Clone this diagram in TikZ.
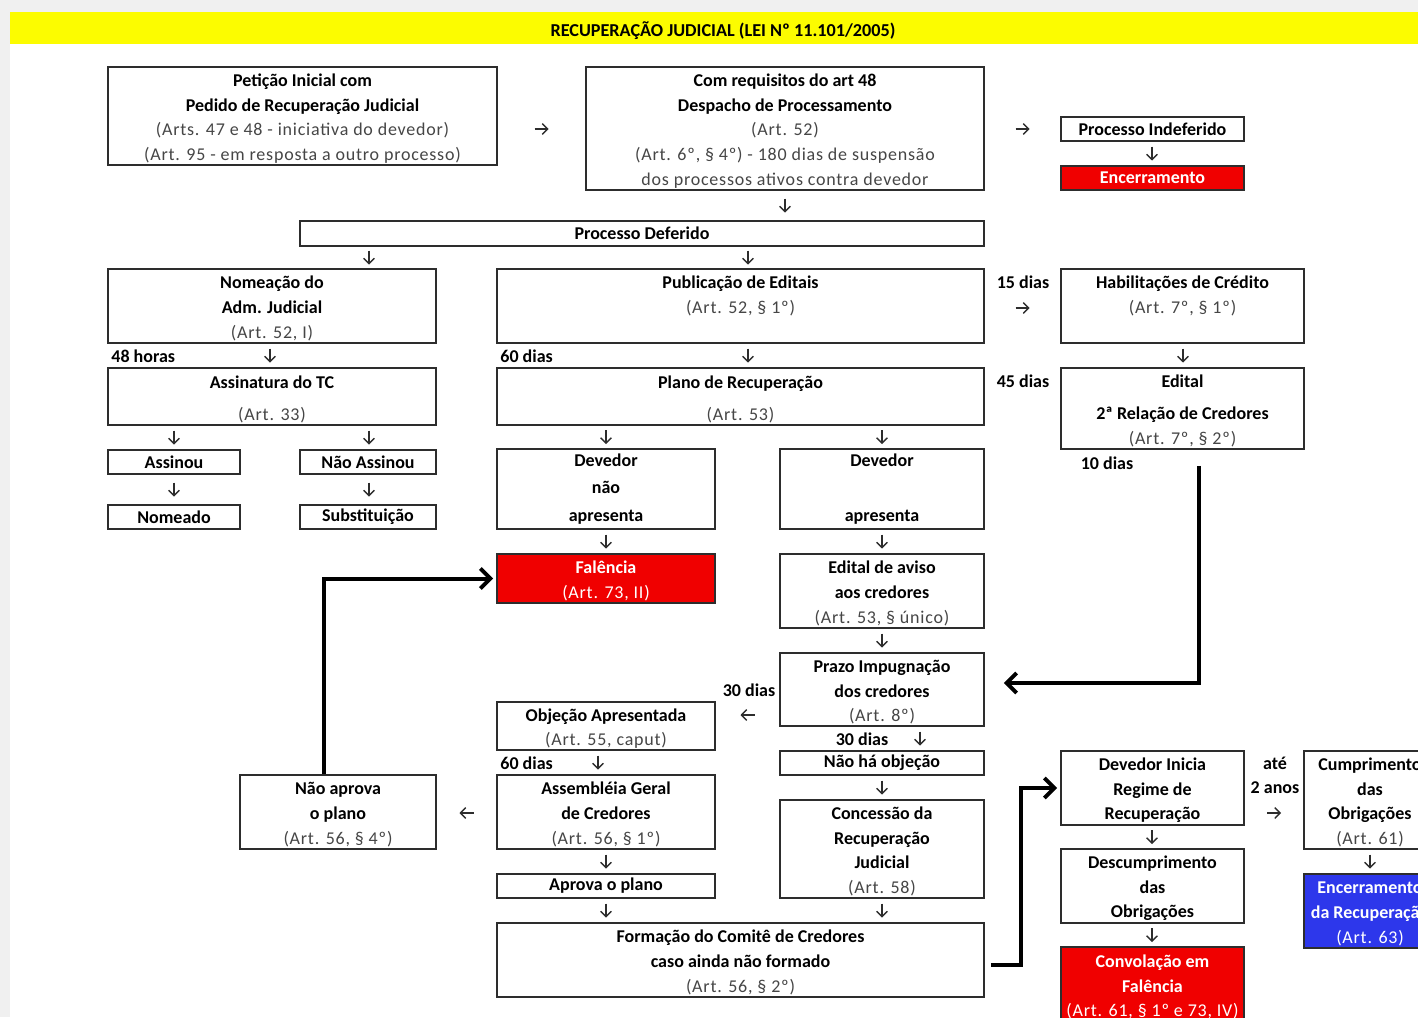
\documentclass[tikz,border=0pt]{standalone}
\usepackage{fontspec}
\setmainfont{Carlito}
\newfontfamily\artfont[LetterSpace=4.3]{Carlito}
\usetikzlibrary{arrows.meta}
\usetikzlibrary{calc}

\definecolor{fundo}{RGB}{240,240,240}
\definecolor{amarelo}{RGB}{252,252,0}
\definecolor{vermelho}{RGB}{240,0,0}
\definecolor{azul}{RGB}{45,55,235}
\definecolor{borda}{RGB}{45,45,45}
\definecolor{artigo}{RGB}{70,70,70}

\tikzset{
	caixa/.style={draw=borda, line width=0.8pt, align=center, inner sep=0pt,
		font=\fontsize{9}{12.3}\selectfont\bfseries},
	alerta/.style={caixa, fill=vermelho, text=white},
	fim/.style={caixa, fill=azul, text=white},
	rotulo/.style={font=\fontsize{9}{12.3}\selectfont\bfseries, inner sep=0pt},
	seta/.style={draw=borda, line width=0.7pt, -{Straight Barb[length=2.6pt,width=5.4pt]}},
	grossa/.style={line width=2pt, -{Straight Barb[length=5pt,width=10pt]}},
}
\newcommand{\topo}{\rule{0pt}{8.8pt}}
\newcommand{\art}[1]{{\artfont\mdseries\color{artigo}#1}}
\newcommand{\artb}[1]{{\artfont\mdseries#1}}
% setas pequenas: de #1 para #2, na abscissa/ordenada #3
\newcommand{\setav}[3]{
	\draw[seta] ($(#1.south -| #3,0)!.5!(#2.north -| #3,0)+(0,-7)$) -- ++(0,14);
}
\newcommand{\setad}[3]{
	\draw[seta] ($(#1.east |- 0,#3)!.5!(#2.west |- 0,#3)+(-7,0)$) -- ++(14,0);
}
\newcommand{\setae}[3]{
	\draw[seta] ($(#1.west |- 0,#3)!.5!(#2.east |- 0,#3)+(7,0)$) -- ++(-14,0);
}

\begin{document}
\begin{tikzpicture}[x=0.5pt, y=-0.5pt]

\clip (0,0) rectangle (1418,1017);
\fill[fundo] (0,0) rectangle (1418,1017);
\fill[white] (10,12) rectangle (1418,1017);
\fill[amarelo] (10,12) rectangle (1418,44);
\node[rotulo, font=\fontsize{9.1}{12}\selectfont\bfseries] (titulo) at (723,31) {RECUPERAÇÃO JUDICIAL (LEI Nº 11.101/2005)};

% linha de cima
\node[caixa, minimum width=194.5pt, minimum height=49pt] (peticao) at (302.5,116)
	{\topo Petição Inicial com\\Pedido de Recuperação Judicial\\\art{(Arts. 47 e 48 - iniciativa do devedor)}\\\art{(Art. 95 - em resposta a outro processo)}};
\node[caixa, minimum width=199pt, minimum height=61.5pt] (despacho) at (785,128.5)
	{\topo Com requisitos do art 48\\Despacho de Processamento\\\art{(Art. 52)}\\\art{(Art. 6º, § 4º) - 180 dias de suspensão}\\\art{dos processos ativos contra devedor}};
\node[caixa, minimum width=91.5pt, minimum height=12pt] (indeferido) at (1152.5,129) {Processo Indeferido};
\node[alerta, minimum width=91.5pt, minimum height=12pt] (encerramento) at (1152.5,178) {Encerramento};
\node[caixa, minimum width=342pt, minimum height=12.5pt] (deferido) at (642,233.5) {Processo Deferido};

% administrador judicial
\node[caixa, minimum width=164pt, minimum height=37pt] (nomeacao) at (272,306)
	{\topo Nomeação do\\Adm. Judicial\\\art{(Art. 52, I)}};
\node[caixa, minimum width=164pt, minimum height=28.5pt] (assinatura) at (272,396.5)
	{\topo Assinatura do TC\\[3.7pt]\art{(Art. 33)}};
\node[caixa, minimum width=66pt, minimum height=12pt] (assinou) at (174,462) {Assinou};
\node[caixa, minimum width=68pt, minimum height=12pt] (naoassinou) at (368,462) {Não Assinou};
\node[caixa, minimum width=66pt, minimum height=12pt] (nomeado) at (174,517) {Nomeado};
\node[caixa, minimum width=68pt, minimum height=12pt] (substituicao) at (368,517) {Substituição};

% plano de recuperacao
\node[caixa, minimum width=243.5pt, minimum height=37pt] (publicacao) at (740.5,306)
	{\topo Publicação de Editais\\\art{(Art. 52, § 1º)}\\\phantom{(}};
\node[caixa, minimum width=243.5pt, minimum height=28.5pt] (plano) at (740.5,396.5)
	{\topo Plano de Recuperação\\[3.7pt]\art{(Art. 53)}};
\node[caixa, minimum width=109pt, minimum height=40pt] (naoapresenta) at (606,489)
	{Devedor\\[1.4pt]não\\[1.4pt]apresenta};
\node[caixa, minimum width=102pt, minimum height=40pt] (apresenta) at (882,489)
	{Devedor\\[15.2pt]apresenta};
\node[alerta, minimum width=109pt, minimum height=24.5pt] (falencia) at (606,578.5)
	{\topo Falência\\\artb{(Art. 73, II)}};
\node[caixa, minimum width=102pt, minimum height=37pt] (aviso) at (882,591)
	{\topo Edital de aviso\\aos credores\\\art{(Art. 53, § único)}};
\node[caixa, minimum width=102pt, minimum height=36.5pt] (prazo) at (882,689.5)
	{\topo Prazo Impugnação\\dos credores\\\art{(Art. 8º)}};
\node[caixa, minimum width=109pt, minimum height=24pt] (objecao) at (606,726)
	{\topo Objeção Apresentada\\\art{(Art. 55, caput)}};
\node[caixa, minimum width=102pt, minimum height=12pt] (naohaobjecao) at (882,763) {Não há objeção};
\node[caixa, minimum width=109pt, minimum height=37pt] (assembleia) at (606,812)
	{\topo Assembléia Geral\\de Credores\\\art{(Art. 56, § 1º)}};
\node[caixa, minimum width=98pt, minimum height=37pt] (naoaprova) at (338,812)
	{\topo Não aprova\\o plano\\\art{(Art. 56, § 4º)}};
\node[caixa, minimum width=102pt, minimum height=49pt] (concessao) at (882,849)
	{\topo Concessão da\\Recuperação\\Judicial\\\art{(Art. 58)}};
\node[caixa, minimum width=109pt, minimum height=12pt] (aprova) at (606,886) {Aprova o plano};
\node[caixa, minimum width=243.5pt, minimum height=37pt] (comite) at (740.5,960)
	{\topo Formação do Comitê de Credores\\caso ainda não formado\\\art{(Art. 56, § 2º)}};

% credores
\node[caixa, minimum width=121.5pt, minimum height=37pt] (habilitacoes) at (1182.5,306)
	{\topo Habilitações de Crédito\\\art{(Art. 7º, § 1º)}\\\phantom{(}};
\node[caixa, minimum width=121.5pt, minimum height=40.5pt] (edital) at (1182.5,408.5)
	{\topo Edital\\[3.7pt]2ª Relação de Credores\\\art{(Art. 7º, § 2º)}};

% cumprimento do plano
\node[caixa, minimum width=91.5pt, minimum height=37pt] (inicia) at (1152.5,788)
	{\topo Devedor Inicia\\Regime de\\Recuperação};
\node[caixa, minimum width=91.5pt, minimum height=37pt] (descumprimento) at (1152.5,886)
	{\topo Descumprimento\\das\\Obrigações};
\node[alerta, minimum width=91.5pt, minimum height=37.5pt] (convolacao) at (1152.5,984.5)
	{\topo Convolação em\\Falência\\\artb{(Art. 61, § 1º e 73, IV)}};
\node[caixa, minimum width=66pt, minimum height=49pt] (cumprimento) at (1370,800)
	{\topo Cumprimento\\das\\Obrigações\\\art{(Art. 61)}};
\node[fim, minimum width=66pt, minimum height=37pt] (encerrado) at (1370,911)
	{\topo Encerramento\\da Recuperação\\\artb{(Art. 63)}};

% prazos
\node[rotulo, anchor=west] (horas48) at (111,356) {48 horas};
\node[rotulo, anchor=west] (dias60a) at (500,356) {60 dias};
\node[rotulo] (dias15) at (1023,282) {15 dias};
\node[rotulo] (dias45) at (1023,381) {45 dias};
\node[rotulo] (dias10) at (1107,463) {10 dias};
\node[rotulo] (dias30a) at (749,690) {30 dias};
\node[rotulo] (dias30b) at (862,739) {30 dias};
\node[rotulo, anchor=west] (dias60b) at (500,763) {60 dias};
\node[rotulo] (ate) at (1275,763) {até};
\node[rotulo] (anos2) at (1275,788) {2 anos};

% setas pequenas
\setad{peticao}{despacho}{129}
\setad{despacho}{indeferido}{129}
\setav{indeferido}{encerramento}{1152}
\setav{despacho}{deferido}{785}
\setav{deferido}{nomeacao}{369}
\setav{deferido}{publicacao}{748}
\setav{nomeacao}{assinatura}{270}
\setav{assinatura}{assinou}{174}
\setav{assinatura}{naoassinou}{369}
\setav{assinou}{nomeado}{174}
\setav{naoassinou}{substituicao}{369}
\setav{publicacao}{plano}{748}
\setad{publicacao}{habilitacoes}{308}
\setav{habilitacoes}{edital}{1183}
\setav{plano}{naoapresenta}{606}
\setav{plano}{apresenta}{882}
\setav{naoapresenta}{falencia}{606}
\setav{apresenta}{aviso}{882}
\setav{aviso}{prazo}{882}
\setae{prazo}{objecao}{715}
\setav{prazo}{naohaobjecao}{920}
\setav{naohaobjecao}{concessao}{882}
\setav{objecao}{assembleia}{598}
\setae{assembleia}{naoaprova}{813}
\setav{assembleia}{aprova}{606}
\setav{aprova}{comite}{606}
\setav{concessao}{comite}{882}
\setav{inicia}{descumprimento}{1152}
\setav{descumprimento}{convolacao}{1152}
\setad{inicia}{cumprimento}{813}
\setav{cumprimento}{encerrado}{1370}

% setas grossas
\draw[grossa] ([xshift=-7pt]naoaprova.north) |- ([xshift=-1.5pt]falencia.west);
\draw[grossa] ([xshift=8.25pt,yshift=-8pt]edital.south) |- ([xshift=9.5pt,yshift=3.25pt]prazo.east);
\draw[grossa] ([xshift=3pt,yshift=-2.5pt]comite.east) -- ++(30,0) |- ([xshift=-1.5pt]inicia.west);

\end{tikzpicture}
\end{document}
